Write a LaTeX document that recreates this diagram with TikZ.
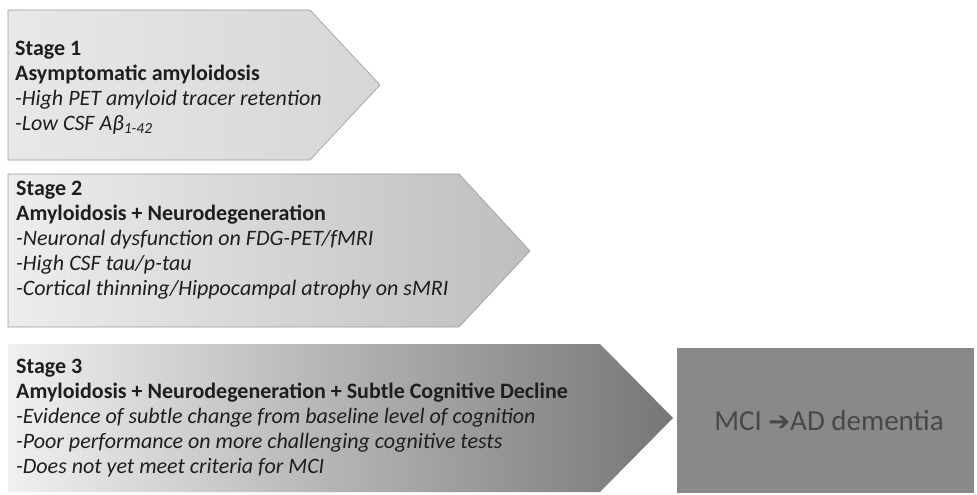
\documentclass[tikz,border=0pt]{standalone}
\usepackage{fontspec}
\setmainfont{Carlito}
\newfontfamily\symfont{DejaVu Sans}
\definecolor{txt}{HTML}{1E1E1E}
\definecolor{edge}{HTML}{9A9A9A}
\definecolor{s1l}{HTML}{E8E8E8}
\definecolor{s1r}{HTML}{D6D6D6}
\definecolor{s2l}{HTML}{EDEDED}
\definecolor{s2r}{HTML}{BEBEBE}
\definecolor{s3l}{HTML}{F0F0F0}
\definecolor{s3r}{HTML}{767676}
\definecolor{boxfill}{HTML}{898989}
\definecolor{boxtxt}{HTML}{484848}
\tikzset{
  chevron/.style={draw=edge, line width=0.6pt},
  stagetext/.style={anchor=north west, inner sep=0pt, align=left, text=txt,
    font=\fontsize{22}{25}\selectfont},
  mcitext/.style={inner sep=0pt, text=boxtxt, font=\fontsize{29}{32}\selectfont}
}
\begin{document}
\begin{tikzpicture}[x=1pt,y=-1pt]
\useasboundingbox[fill=white] (0,0) rectangle (977,495);
% Stage 1 chevron
\path[chevron, left color=s1l, right color=s1r]
  (8,10) -- (310,10) -- (380,85) -- (310,160) -- (8,160) -- cycle;
% Stage 2 chevron
\path[chevron, left color=s2l, right color=s2r]
  (8,174) -- (459,174) -- (530,251) -- (459,327) -- (8,327) -- cycle;
% Stage 3 chevron
\path[left color=s3l, right color=s3r]
  (8,344) -- (600,344) -- (673,418) -- (600,492) -- (8,492) -- cycle;
% MCI box
\path[fill=boxfill] (677,348) rectangle (974,493);

\node[stagetext] (s1) at (15,41) {\textbf{Stage 1}\\
\textbf{Asymptomatic amyloidosis}\\
\textit{-High PET amyloid tracer retention}\\
\textit{-Low CSF Aβ\textsubscript{1-42}}};

\node[stagetext] (s2) at (16,181) {\textbf{Stage 2}\\
\textbf{Amyloidosis + Neurodegeneration}\\
\textit{-Neuronal dysfunction on FDG-PET/fMRI}\\
\textit{-High CSF tau/p-tau}\\
\textit{-Cortical thinning/Hippocampal atrophy on sMRI}};

\node[stagetext] (s3) at (16,359) {\textbf{Stage 3}\\
\textbf{Amyloidosis + Neurodegeneration + Subtle Cognitive Decline}\\
\textit{-Evidence of subtle change from baseline level of cognition}\\
\textit{-Poor performance on more challenging cognitive tests}\\
\textit{-Does not yet meet criteria for MCI}};

\node[mcitext] (mci) at (829,421) {MCI {\symfont\fontsize{26}{28}\selectfont ➔}AD dementia};
\end{tikzpicture}
\end{document}
